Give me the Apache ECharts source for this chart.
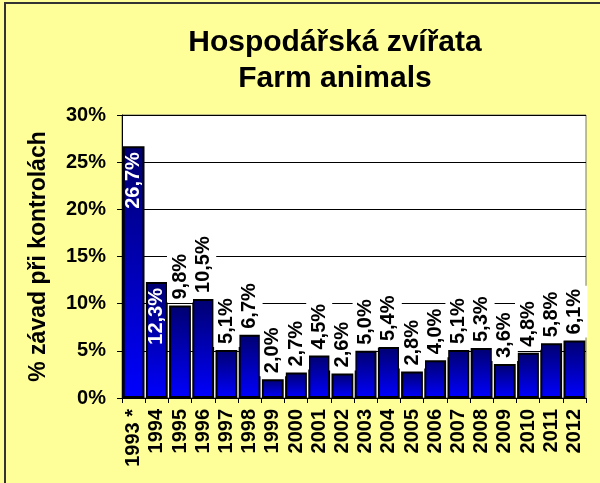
<!DOCTYPE html>
<html>
<head>
<meta charset="utf-8">
<script src="https://cdn.jsdelivr.net/npm/echarts@6/dist/echarts.min.js"></script>
<style>
  html, body { margin: 0; padding: 0; background: #FFFF99; }
  #main { width: 600px; height: 483px; }
</style>
</head>
<body>
<div id="main"></div>
<script>
// data
var years = ['1993 *', '1994', '1995', '1996', '1997', '1998', '1999', '2000', '2001', '2002',
  '2003', '2004', '2005', '2006', '2007', '2008', '2009', '2010', '2011', '2012'];
var faultShare = [26.7, 12.3, 9.8, 10.5, 5.1, 6.7, 2.0, 2.7, 4.5, 2.6,
  5.0, 5.4, 2.8, 4.0, 5.1, 5.3, 3.6, 4.8, 5.8, 6.1];
var insideLabels = ['1993 *', '1994']; // these two have the label inside the bar
var yTicks = [0, 5, 10, 15, 20, 25, 30];

var chart = echarts.init(document.getElementById('main'));
var font = 'Arial, "Liberation Sans", sans-serif';

function pct(v) {
  return v.toFixed(1).replace('.', ',') + '%';
}

var barData = faultShare.map(function (v, i) {
  var item = { value: v };
  if (insideLabels.indexOf(years[i]) >= 0) {
    item.label = {
      position: 'insideTop',
      align: 'right',
      verticalAlign: 'middle',
      distance: 6,
      color: '#fff',
      backgroundColor: 'transparent',
      padding: 0
    };
  }
  return item;
});

var option = {
  backgroundColor: '#FFFF99',
  animation: false,
  title: {
    text: 'Hospodářská zvířata\nFarm animals',
    left: 330,
    top: 20,
    textAlign: 'center',
    textStyle: {
      fontFamily: font,
      fontWeight: 'bold',
      fontSize: 30,
      lineHeight: 36,
      color: '#000'
    }
  },
  graphic: [{
    type: 'rect',
    shape: { x: 5, y: 3, width: 620, height: 500 },
    style: { fill: 'none', stroke: '#333', lineWidth: 2 },
    silent: true
  }],
  grid: {
    left: 122,
    right: 14,
    top: 115,
    bottom: 85,
    show: true,
    backgroundColor: '#fff',
    borderColor: '#777',
    borderWidth: 1
  },
  xAxis: {
    type: 'category',
    data: years,
    axisLine: { lineStyle: { color: '#000', width: 1 } },
    axisTick: { show: true, length: 5, lineStyle: { color: '#000' } },
    axisLabel: {
      rotate: 90,
      interval: 0,
      margin: 11,
      fontFamily: font,
      fontWeight: 'bold',
      fontSize: 20,
      color: '#000'
    }
  },
  yAxis: {
    type: 'value',
    min: yTicks[0],
    max: yTicks[yTicks.length - 1],
    interval: 5,
    name: '% závad při kontrolách',
    nameLocation: 'middle',
    nameGap: 72,
    nameTextStyle: {
      fontFamily: font,
      fontWeight: 'bold',
      fontSize: 23,
      color: '#000'
    },
    axisLine: { show: true, lineStyle: { color: '#000', width: 1 } },
    axisTick: { show: true, length: 5, lineStyle: { color: '#000' } },
    splitLine: { lineStyle: { color: '#000', width: 1 } },
    axisLabel: {
      formatter: '{value}%',
      margin: 16,
      fontFamily: font,
      fontWeight: 'bold',
      fontSize: 20,
      color: '#000'
    }
  },
  series: [{
    type: 'bar',
    data: barData,
    barCategoryGap: '6%',
    itemStyle: {
      borderColor: '#000',
      borderWidth: 2,
      color: new echarts.graphic.LinearGradient(0, 0, 0, 1, [
        { offset: 0, color: '#000070' },
        { offset: 1, color: '#0000ff' }
      ])
    },
    label: {
      show: true,
      position: 'top',
      rotate: 90,
      align: 'left',
      verticalAlign: 'middle',
      distance: 3,
      backgroundColor: '#fff',
      padding: [3, 3],
      fontFamily: font,
      fontWeight: 'bold',
      fontSize: 20,
      color: '#000',
      formatter: function (p) { return pct(p.value); }
    }
  }]
};

chart.setOption(option);
</script>
</body>
</html>
